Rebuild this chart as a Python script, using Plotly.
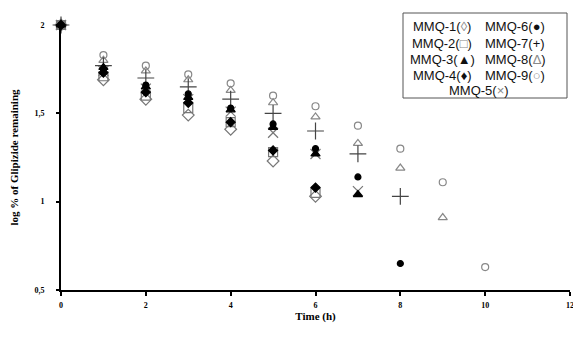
import plotly.graph_objects as go

time_h = [0, 1, 2, 3, 4, 5, 6, 7, 8, 9, 10]

mmq1 = [2.00, 1.69, 1.58, 1.49, 1.41, 1.23, 1.03]
mmq2 = [2.00, 1.71, 1.60, 1.53, 1.45, 1.28, 1.05]
mmq3 = [2.00, 1.76, 1.65, 1.59, 1.52, 1.42, 1.27, 1.04]
mmq4 = [2.00, 1.73, 1.62, 1.56, 1.45, 1.29, 1.08]
mmq5 = [2.00, 1.74, 1.64, 1.58, 1.51, 1.39, 1.27, 1.06]
mmq6 = [2.00, 1.75, 1.66, 1.61, 1.53, 1.44, 1.30, 1.14, 0.65]
mmq7 = [2.00, 1.77, 1.70, 1.65, 1.58, 1.50, 1.40, 1.27, 1.03]
mmq8 = [2.00, 1.80, 1.74, 1.69, 1.63, 1.56, 1.48, 1.33, 1.19, 0.91]
mmq9 = [2.00, 1.83, 1.77, 1.72, 1.67, 1.60, 1.54, 1.43, 1.30, 1.11, 0.63]

x_ticks = [0, 2, 4, 6, 8, 10, 12]
y_ticks = [0.5, 1, 1.5, 2]

series = [
    ("MMQ-1", mmq1, "diamond-open", "#777777", 9),
    ("MMQ-2", mmq2, "square-open", "#777777", 9),
    ("MMQ-8", mmq8, "triangle-up-open", "#888888", 8),
    ("MMQ-9", mmq9, "circle-open", "#888888", 7),
    ("MMQ-5", mmq5, "x-thin-open", "#777777", 10),
    ("MMQ-7", mmq7, "cross-thin-open", "#444444", 12),
    ("MMQ-3", mmq3, "triangle-up", "#000000", 8),
    ("MMQ-4", mmq4, "diamond", "#000000", 7),
    ("MMQ-6", mmq6, "circle", "#000000", 6),
]

fig = go.Figure()
for name, vals, sym, col, sz in series:
    fig.add_trace(go.Scatter(
        x=time_h[:len(vals)], y=vals, mode="markers", name=name,
        cliponaxis=False,
        marker=dict(symbol=sym, size=sz, color=col,
                    line=dict(color=col, width=1.2)),
    ))

serif = "Liberation Serif, Times New Roman, serif"
# page body has an 8px default margin, so the figure starts at (8, 8)
PL, PR, PT, PB = 61, 570, 25, 290
fig.update_layout(
    width=581, height=347,
    margin=dict(l=PL - 8, r=581 + 8 - PR, t=PT - 8, b=347 + 8 - PB),
    paper_bgcolor="white", plot_bgcolor="white",
    showlegend=False,
    separators=", ",
    xaxis=dict(range=[0, 12], tickvals=x_ticks, showgrid=False, zeroline=False,
               automargin=False,
               showline=True, linecolor="black", linewidth=2,
               ticks="outside", ticklen=4, tickcolor="black", tickwidth=1.5,
               ticklabelstandoff=2,
               tickfont=dict(family=serif, size=8, color="black", weight="bold"),
               title=dict(text="Time (h)", standoff=4,
                          font=dict(family=serif, size=11, color="black", weight="bold"))),
    yaxis=dict(range=[0.5, 2.0], tickvals=y_ticks, showgrid=False, zeroline=False,
               automargin=False,
               showline=True, linecolor="black", linewidth=2,
               ticks="outside", ticklen=3, tickcolor="black", tickwidth=1.5,
               ticklabelstandoff=10,
               tickfont=dict(family=serif, size=8, color="black", weight="bold"),
               title=dict(text="log % of Glipizide remaining", standoff=14,
                          font=dict(family=serif, size=11, color="black", weight="bold"))),
)

def px(x):
    return (x - PL) / (PR - PL)

def py(y):
    return (PB - y) / (PB - PT)

# legend box
fig.add_shape(type="rect", xref="paper", yref="paper",
              x0=px(403), x1=px(567), y0=py(98), y1=py(13),
              line=dict(color="#555555", width=1), fillcolor="white")

sans = "Liberation Sans, Arial, sans-serif"
g = "#888888"
k = "#111111"
def lab(n, s, c):
    return f"MMQ-{n}(<span style='color:{c}'>{s}</span>)"

rows = [
    (26, lab(1, "◊", g), lab(6, "●", k)),
    (43, lab(2, "□", g), lab(7, "+", k)),
    (60, lab(3, "▲", k), lab(8, "Δ", g)),
    (76, lab(4, "♦", k), lab(9, "○", g)),
]
for yp, left, right in rows:
    for xp, txt in ((442, left), (515, right)):
        fig.add_annotation(xref="paper", yref="paper",
                           x=px(xp), y=py(yp),
                           text=txt, showarrow=False,
                           font=dict(family=sans, size=13, color="#111111"),
                           xanchor="center", yanchor="middle")
fig.add_annotation(xref="paper", yref="paper",
                   x=px(479), y=py(91),
                   text=lab(5, "×", g), showarrow=False,
                   font=dict(family=sans, size=13, color="#111111"),
                   xanchor="center", yanchor="middle")

fig.write_html("out.html")
